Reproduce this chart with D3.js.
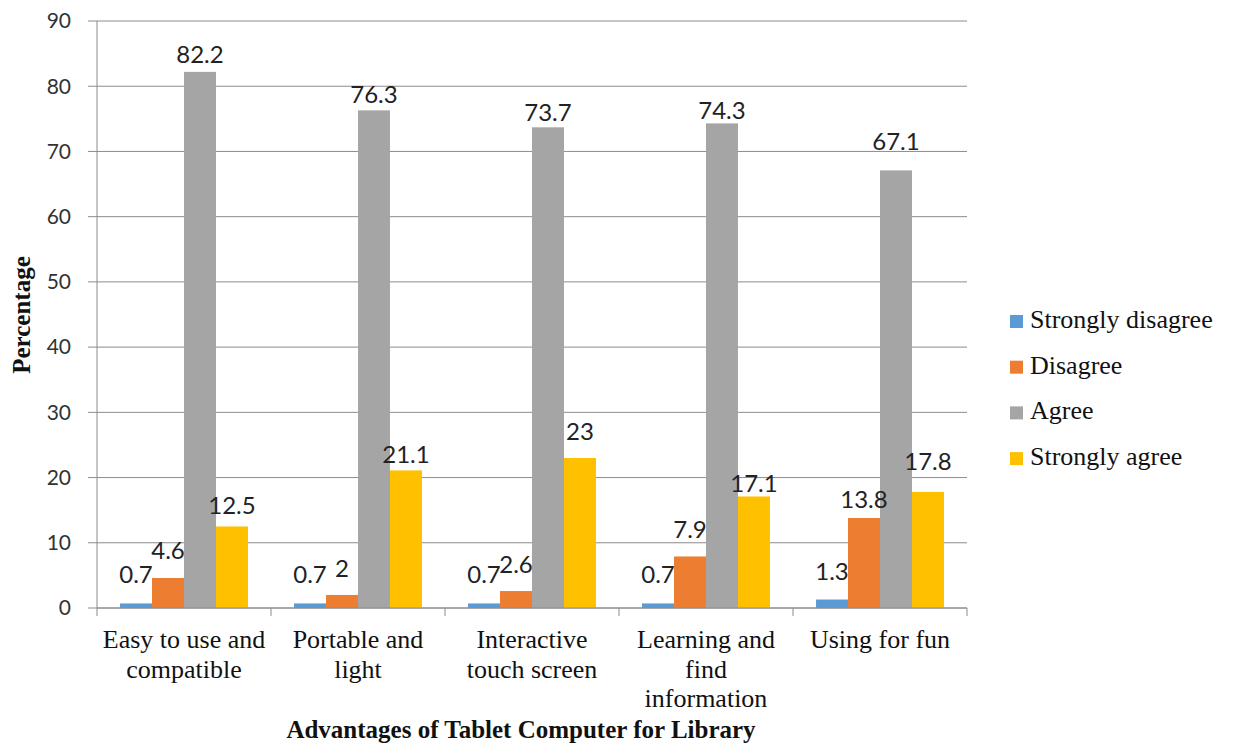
<!DOCTYPE html>
<html>
<head>
<meta charset="utf-8">
<script src="https://cdn.jsdelivr.net/npm/d3@7"></script>
<style>
  body { margin: 0; background: #fff; }
  svg { display: block; }
  .tick-label { font-family: Lato, "Open Sans", sans-serif; font-size: 21px; fill: #333; }
  .value-label { font-family: Lato, "Open Sans", sans-serif; font-size: 24px; fill: #222; }
  .cat-label { font-family: "Liberation Serif", "Times New Roman", serif; font-size: 26px; fill: #111; }
  .axis-title { font-family: "Liberation Serif", "Times New Roman", serif; font-size: 25px; font-weight: bold; fill: #111; }
  .legend-label { font-family: "Liberation Serif", "Times New Roman", serif; font-size: 26px; fill: #111; }
</style>
</head>
<body>
<svg id="chart" width="1233" height="754"></svg>
<script>
const categories = [
  ['Easy to use and', 'compatible'],
  ['Portable and', 'light'],
  ['Interactive', 'touch screen'],
  ['Learning and', 'find', 'information'],
  ['Using for fun'],
];
const seriesNames = ['Strongly disagree', 'Disagree', 'Agree', 'Strongly agree'];
const stronglyDisagree = [0.7, 0.7, 0.7, 0.7, 1.3];
const disagree = [4.6, 2, 2.6, 7.9, 13.8];
const agree = [82.2, 76.3, 73.7, 74.3, 67.1];
const stronglyAgree = [12.5, 21.1, 23, 17.1, 17.8];
const yTicks = [0, 10, 20, 30, 40, 50, 60, 70, 80, 90];

const colors = ['#5b9bd5', '#ed7d31', '#a5a5a5', '#ffc000'];
// gap (px) between bar top and label baseline, as placed in the original
const labelGap = [
  [20, 19, 9, 12],
  [20, 18, 7, 7],
  [20, 18, 6, 18],
  [20, 18, 4, 4],
  [20, 10, 20, 22],
];

const svg = d3.select('#chart');
const plotLeft = 97;
const plotRight = 967;
const plotTop = 21;
const plotBottom = 608;

const seriesValues = [stronglyDisagree, disagree, agree, stronglyAgree];
const catKeys = categories.map((c, i) => i);

const x = d3.scaleBand().domain(catKeys).range([plotLeft, plotRight]).padding(0);
const xs = d3.scaleBand().domain(d3.range(seriesNames.length)).range([0, x.bandwidth()]).paddingOuter(0.72);
const y = d3.scaleLinear().domain([0, 90]).range([plotBottom, plotTop]);

// gridlines + y ticks
const grid = svg.append('g');
grid.selectAll('line')
  .data(yTicks)
  .enter()
  .append('line')
  .attr('x1', plotLeft - 9)
  .attr('x2', plotRight)
  .attr('y1', (d) => y(d))
  .attr('y2', (d) => y(d))
  .attr('stroke', '#8c8c8c')
  .attr('stroke-width', 1);

grid.selectAll('text')
  .data(yTicks)
  .enter()
  .append('text')
  .attr('class', 'tick-label')
  .attr('x', plotLeft - 26)
  .attr('y', (d) => y(d))
  .attr('dy', '0.35em')
  .attr('text-anchor', 'end')
  .text((d) => d);

// bars
const groups = svg.append('g')
  .selectAll('g')
  .data(catKeys)
  .enter()
  .append('g')
  .attr('transform', (d) => `translate(${x(d)},0)`);

const cells = (ci) => seriesValues.map((vals, si) => ({ ci, si, v: vals[ci] }));

groups.selectAll('rect')
  .data(cells)
  .enter()
  .append('rect')
  .attr('x', (d) => xs(d.si))
  .attr('width', xs.bandwidth())
  .attr('y', (d) => y(d.v))
  .attr('height', (d) => y(0) - y(d.v))
  .attr('fill', (d) => colors[d.si]);

groups.selectAll('text')
  .data(cells)
  .enter()
  .append('text')
  .attr('class', 'value-label')
  .attr('x', (d) => xs(d.si) + xs.bandwidth() / 2)
  .attr('y', (d) => y(d.v) - labelGap[d.ci][d.si])
  .attr('text-anchor', 'middle')
  .text((d) => d.v);

// axis lines
svg.append('line')
  .attr('x1', plotLeft).attr('x2', plotLeft)
  .attr('y1', plotTop).attr('y2', plotBottom)
  .attr('stroke', '#8c8c8c');
svg.append('line')
  .attr('x1', plotLeft).attr('x2', plotRight)
  .attr('y1', plotBottom).attr('y2', plotBottom)
  .attr('stroke', '#8c8c8c');

const boundaries = catKeys.map((d) => x(d)).concat([plotRight]);
svg.append('g')
  .selectAll('line')
  .data(boundaries)
  .enter()
  .append('line')
  .attr('x1', (d) => d).attr('x2', (d) => d)
  .attr('y1', plotBottom).attr('y2', plotBottom + 8)
  .attr('stroke', '#8c8c8c');

// category labels
const catText = svg.append('g')
  .selectAll('text')
  .data(catKeys)
  .enter()
  .append('text')
  .attr('class', 'cat-label')
  .attr('text-anchor', 'middle')
  .attr('x', (d) => x(d) + x.bandwidth() / 2)
  .attr('y', 648);

catText.selectAll('tspan')
  .data((d) => categories[d].map((line, i) => ({ line, i, cx: x(d) + x.bandwidth() / 2 })))
  .enter()
  .append('tspan')
  .attr('x', (d) => d.cx)
  .attr('dy', (d) => (d.i === 0 ? 0 : 29.5))
  .text((d) => d.line);

// axis titles
svg.append('text')
  .attr('class', 'axis-title')
  .attr('x', 521)
  .attr('y', 738)
  .attr('text-anchor', 'middle')
  .text('Advantages of Tablet Computer for Library');

svg.append('text')
  .attr('class', 'axis-title')
  .attr('transform', 'translate(30,315) rotate(-90)')
  .attr('text-anchor', 'middle')
  .text('Percentage');

// legend
const legend = svg.append('g')
  .selectAll('g')
  .data(seriesNames)
  .enter()
  .append('g')
  .attr('transform', (d, i) => `translate(1010,${328 + i * 45.7})`);

legend.append('rect')
  .attr('x', 0)
  .attr('y', -13)
  .attr('width', 13)
  .attr('height', 13)
  .attr('fill', (d, i) => colors[i]);

legend.append('text')
  .attr('class', 'legend-label')
  .attr('x', 20)
  .attr('y', 0)
  .text((d) => d);
</script>
</body>
</html>
